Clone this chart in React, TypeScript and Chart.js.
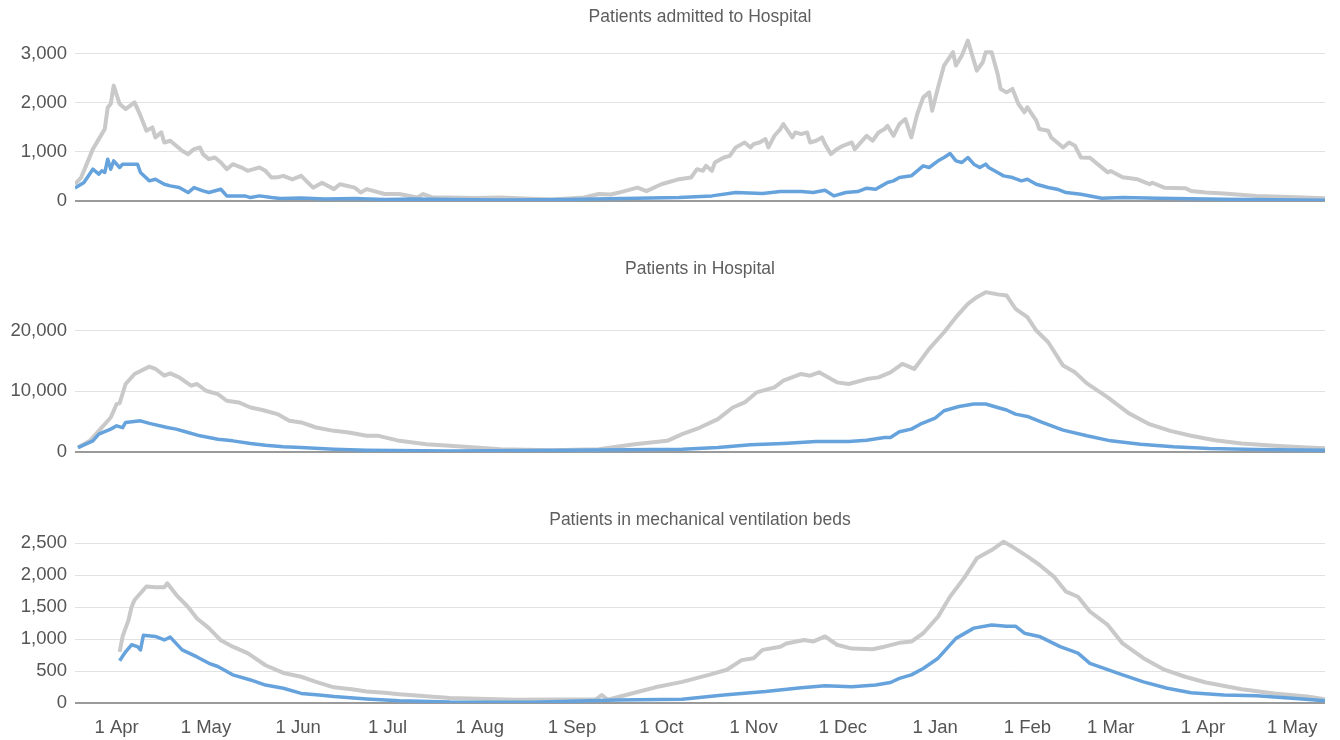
import React, { useEffect, useRef } from "react";
import { Chart, registerables } from "chart.js";

Chart.register(...registerables);

// x = day offset, day 0 = 1 Apr 2020
const X_MIN = -14;
const X_MAX = 406;
const monthTickDays = [0, 30, 61, 91, 122, 153, 183, 214, 244, 275, 306, 334, 365, 395];
const monthTickLabels = ["1 Apr", "1 May", "1 Jun", "1 Jul", "1 Aug", "1 Sep", "1 Oct", "1 Nov", "1 Dec", "1 Jan", "1 Feb", "1 Mar", "1 Apr", "1 May"];

const panelTitles = ["Patients admitted to Hospital", "Patients in Hospital", "Patients in mechanical ventilation beds"];
const admittedTicks = [0, 1000, 2000, 3000];
const inHospitalTicks = [0, 10000, 20000];
const ventilationTicks = [0, 500, 1000, 1500, 2000, 2500];

// [day, value]
const admittedTotal: [number, number][] = [
  [-14, 340], [-12, 470], [-11, 612], [-8, 1054], [-6, 1258], [-4, 1462], [-3, 1905], [-2, 1973], [-1, 2347], [1, 1973],
  [3, 1870], [6, 2007], [8, 1735], [10, 1429], [12, 1497], [13, 1293], [15, 1395], [16, 1190], [18, 1224], [20, 1122],
  [22, 1020], [24, 952], [26, 1054], [28, 1088], [29, 952], [31, 850], [33, 884], [35, 782], [37, 646], [39, 748],
  [42, 680], [44, 612], [46, 646], [48, 680], [50, 612], [52, 476], [54, 480], [56, 510], [59, 440], [62, 510],
  [66, 270], [69, 370], [73, 240], [75, 340], [80, 270], [82, 170], [84, 240], [90, 140], [95, 140], [101, 70],
  [103, 140], [106, 70], [112, 70], [120, 60], [129, 70], [137, 50], [146, 30], [152, 50], [157, 70], [162, 140],
  [166, 130], [170, 190], [175, 270], [178, 200], [183, 340], [189, 442], [193, 476], [195, 646], [197, 612], [198, 714],
  [200, 612], [201, 782], [204, 884], [206, 918], [208, 1088], [210, 1156], [211, 1190], [213, 1088], [214, 1156], [216, 1190],
  [218, 1258], [219, 1088], [221, 1326], [223, 1462], [224, 1565], [227, 1292], [228, 1394], [230, 1360], [232, 1394], [233, 1190],
  [235, 1224], [237, 1292], [238, 1156], [240, 952], [242, 1054], [244, 1122], [247, 1190], [248, 1054], [251, 1258], [252, 1326],
  [254, 1224], [256, 1394], [258, 1462], [259, 1530], [261, 1326], [263, 1565], [265, 1667], [267, 1292], [269, 1769], [271, 2108],
  [273, 2210], [274, 1837], [276, 2312], [278, 2755], [281, 3027], [282, 2755], [284, 2959], [286, 3265], [287, 3061], [289, 2653],
  [291, 2823], [292, 3027], [294, 3027], [296, 2585], [297, 2280], [299, 2210], [301, 2280], [303, 1973], [305, 1803], [306, 1905],
  [309, 1633], [310, 1463], [313, 1428], [314, 1292], [316, 1190], [318, 1088], [320, 1190], [322, 1122], [324, 884], [327, 880],
  [333, 580], [334, 610], [338, 480], [343, 440], [347, 340], [348, 370], [352, 270], [359, 260], [361, 200], [366, 170],
  [372, 150], [383, 100], [394, 80], [406, 55],
];
const admittedSubset: [number, number][] = [
  [-14, 260], [-11, 374], [-8, 646], [-6, 544], [-5, 612], [-4, 578], [-3, 850], [-2, 646], [-1, 816], [1, 680],
  [2, 748], [7, 748], [8, 578], [11, 408], [13, 442], [16, 340], [18, 306], [21, 272], [24, 170], [26, 272],
  [29, 204], [31, 170], [35, 238], [37, 102], [43, 102], [45, 68], [48, 102], [52, 68], [55, 50], [62, 60],
  [70, 40], [80, 50], [90, 30], [100, 40], [112, 30], [130, 20], [151, 30], [170, 50], [189, 68], [200, 102],
  [208, 170], [217, 150], [223, 190], [230, 190], [234, 170], [238, 218], [241, 102], [245, 170], [249, 190], [252, 258],
  [255, 238], [257, 306], [259, 374], [261, 408], [263, 476], [267, 510], [269, 612], [271, 714], [273, 680], [276, 816],
  [278, 884], [280, 966], [282, 816], [284, 782], [286, 884], [288, 748], [290, 680], [292, 748], [293, 680], [296, 578],
  [298, 510], [301, 476], [304, 408], [306, 442], [309, 340], [313, 272], [316, 238], [319, 170], [324, 136], [331, 55],
  [338, 70], [350, 55], [372, 35], [406, 15],
];

const inHospitalTotal: [number, number][] = [
  [-13, 710], [-9, 1820], [-6, 3470], [-2, 5670], [0, 7900], [1, 8050], [3, 11190], [6, 12840], [11, 14050], [13, 13700],
  [16, 12560], [18, 12950], [21, 12280], [25, 10910], [27, 11190], [30, 10080], [34, 9530], [37, 8430], [41, 8150], [45, 7320],
  [49, 6900], [54, 6230], [58, 5120], [62, 4850], [67, 4020], [73, 3470], [78, 3200], [84, 2650], [88, 2650], [95, 1820],
  [104, 1270], [112, 1000], [129, 440], [146, 280], [162, 440], [174, 1270], [185, 1820], [190, 2930], [196, 4020], [202, 5400],
  [207, 7320], [211, 8150], [215, 9800], [221, 10630], [224, 11740], [230, 12840], [233, 12560], [236, 13120], [242, 11460], [246, 11190],
  [252, 12000], [256, 12280], [260, 13110], [264, 14500], [268, 13670], [273, 16980], [278, 19720], [282, 22200], [286, 24400], [289, 25500],
  [292, 26330], [296, 25960], [299, 25780], [302, 23590], [306, 22200], [309, 20000], [313, 18070], [318, 14220], [322, 13110], [326, 11290],
  [333, 8980], [340, 6390], [347, 4570], [354, 3470], [361, 2650], [369, 1930], [378, 1380], [389, 1000], [400, 710], [406, 600],
];
const inHospitalSubset: [number, number][] = [
  [-13, 710], [-8, 1820], [-6, 2930], [-2, 3750], [0, 4300], [2, 4000], [3, 4850], [8, 5120], [11, 4700], [17, 4020],
  [20, 3750], [24, 3200], [28, 2650], [34, 2090], [39, 1820], [45, 1380], [50, 1100], [56, 830], [62, 710], [73, 440],
  [84, 280], [112, 165], [151, 275], [190, 440], [202, 710], [213, 1160], [224, 1380], [235, 1710], [246, 1710], [252, 1930],
  [258, 2370], [260, 2370], [263, 3310], [267, 3750], [270, 4570], [275, 5570], [278, 6780], [283, 7490], [288, 7890], [292, 7890],
  [296, 7320], [299, 6900], [302, 6230], [306, 5840], [311, 4850], [318, 3590], [326, 2650], [334, 1820], [344, 1270], [355, 830],
  [367, 550], [383, 385], [406, 275],
];

const ventilationTotal: [number, number][] = [
  [1, 800], [2, 1040], [4, 1300], [5, 1500], [6, 1610], [10, 1820], [13, 1810], [16, 1810], [17, 1870], [20, 1690],
  [24, 1500], [27, 1320], [31, 1170], [35, 980], [39, 880], [44, 780], [50, 590], [56, 470], [62, 410], [67, 330],
  [73, 245], [79, 215], [84, 180], [90, 160], [95, 135], [112, 80], [134, 50], [161, 57], [163, 125], [165, 50],
  [174, 160], [181, 245], [190, 330], [199, 440], [205, 520], [210, 670], [214, 700], [217, 830], [223, 880], [225, 930],
  [231, 985], [234, 960], [238, 1040], [242, 910], [247, 850], [254, 840], [258, 880], [263, 940], [267, 960], [271, 1090],
  [276, 1350], [280, 1660], [285, 1970], [289, 2260], [294, 2390], [298, 2520], [301, 2440], [306, 2290], [310, 2160], [315, 1970],
  [319, 1740], [323, 1660], [327, 1430], [333, 1220], [338, 930], [345, 700], [352, 520], [359, 410], [366, 320], [378, 215],
  [389, 150], [400, 100], [406, 60],
];
const ventilationSubset: [number, number][] = [
  [1, 660], [3, 800], [5, 910], [7, 880], [8, 830], [9, 1060], [13, 1040], [16, 985], [18, 1030], [22, 830],
  [27, 720], [31, 620], [34, 570], [39, 440], [45, 360], [50, 280], [56, 230], [62, 150], [68, 125], [73, 100],
  [84, 63], [95, 36], [112, 15], [140, 10], [168, 47], [190, 57], [204, 125], [218, 180], [230, 240], [238, 270],
  [247, 255], [255, 280], [260, 320], [263, 385], [267, 440], [271, 540], [276, 700], [282, 1010], [288, 1170], [294, 1220],
  [299, 1200], [302, 1200], [305, 1090], [310, 1040], [317, 880], [323, 780], [327, 620], [333, 520], [338, 440], [345, 330],
  [353, 230], [361, 160], [372, 125], [383, 115], [395, 73], [406, 36],
];

const GREY = "#c9c9c9";
const BLUE = "#66a3dd";
const FONT = '"Liberation Sans", Arial, sans-serif';

const panelTitlePlugin = {
  id: "panelTitle",
  afterDraw(chart: any, _args: any, opts: any) {
    const { ctx, chartArea } = chart;
    ctx.save();
    ctx.font = `17.5px ${FONT}`;
    ctx.fillStyle = "#5e5e5e";
    ctx.textAlign = "center";
    ctx.textBaseline = "middle";
    ctx.fillText(opts.text, (chartArea.left + chartArea.right) / 2, opts.y);
    ctx.restore();
  },
};

type PanelProps = {
  top: number;
  height: number;
  padTop: number;
  padBottom: number;
  yMax: number;
  yTicks: number[];
  title: string;
  titleY: number;
  total: [number, number][];
  subset: [number, number][];
  showX: boolean;
};

function Panel(p: PanelProps) {
  const ref = useRef<HTMLCanvasElement | null>(null);
  useEffect(() => {
    if (!ref.current) return;
    const xScale: any = {
      type: "linear",
      min: X_MIN,
      max: X_MAX,
      display: p.showX,
      grid: { display: false, drawTicks: false },
      border: { display: false },
      afterBuildTicks: (scale: any) => {
        scale.ticks = monthTickDays.map((v) => ({ value: v }));
      },
      ticks: {
        autoSkip: false,
        maxRotation: 0,
        minRotation: 0,
        padding: 14,
        color: "#555",
        font: { family: FONT, size: 18.5 },
        callback: (_v: any, i: number) => monthTickLabels[i],
      },
    };
    if (p.showX) {
      xScale.afterFit = (scale: any) => {
        scale.height = 37;
      };
    }
    const chart = new Chart(ref.current, {
      type: "line",
      data: {
        datasets: [
          {
            data: p.subset.map(([x, y]) => ({ x, y })),
            borderColor: BLUE,
            borderWidth: 3.5,
            pointRadius: 0,
            tension: 0,
            borderJoinStyle: "round",
          },
          {
            data: p.total.map(([x, y]) => ({ x, y })),
            borderColor: GREY,
            borderWidth: 4,
            pointRadius: 0,
            tension: 0,
            borderJoinStyle: "round",
          },
        ],
      },
      options: {
        responsive: false,
        animation: false,
        events: [],
        layout: { padding: { top: p.padTop, bottom: p.padBottom, left: 0, right: 15 } },
        plugins: {
          legend: { display: false },
          tooltip: { enabled: false },
          title: { display: false },
          panelTitle: { text: p.title, y: p.titleY },
        } as any,
        scales: {
          x: xScale,
          y: {
            type: "linear",
            min: 0,
            max: p.yMax,
            grid: {
              drawTicks: false,
              color: (c: any) => (c.tick && c.tick.value === 0 ? "#9a9a9a" : "#e2e2e2"),
              lineWidth: (c: any) => (c.tick && c.tick.value === 0 ? 2 : 1),
            },
            border: { display: false },
            afterBuildTicks: (scale: any) => {
              scale.ticks = p.yTicks.map((v) => ({ value: v }));
            },
            afterFit: (scale: any) => {
              scale.width = 75;
            },
            ticks: {
              padding: 8,
              color: "#555",
              font: { family: FONT, size: 18.5 },
              callback: (v: any) => Number(v).toLocaleString("en-US"),
            },
          },
        },
      },
      plugins: [panelTitlePlugin],
    } as any);
    return () => chart.destroy();
  }, []);
  return (
    <div style={{ position: "absolute", left: 0, top: p.top, width: 1340, height: p.height }}>
      <canvas ref={ref} width={1340} height={p.height} style={{ display: "block", width: 1340, height: p.height }} />
    </div>
  );
}

export default function App() {
  return (
    <div style={{ position: "fixed", left: 0, top: 0, width: 1340, height: 740, background: "#ffffff", overflow: "hidden" }}>
      <Panel top={0} height={220} padTop={29} padBottom={5} yMax={3500} yTicks={admittedTicks}
        title={panelTitles[0]} titleY={17} total={admittedTotal} subset={admittedSubset} showX={false} />
      <Panel top={240} height={231} padTop={42} padBottom={5} yMax={28000} yTicks={inHospitalTicks}
        title={panelTitles[1]} titleY={29} total={inHospitalTotal} subset={inHospitalSubset} showX={false} />
      <Panel top={490} height={250} padTop={37} padBottom={0} yMax={2750} yTicks={ventilationTicks}
        title={panelTitles[2]} titleY={30} total={ventilationTotal} subset={ventilationSubset} showX={true} />
    </div>
  );
}
